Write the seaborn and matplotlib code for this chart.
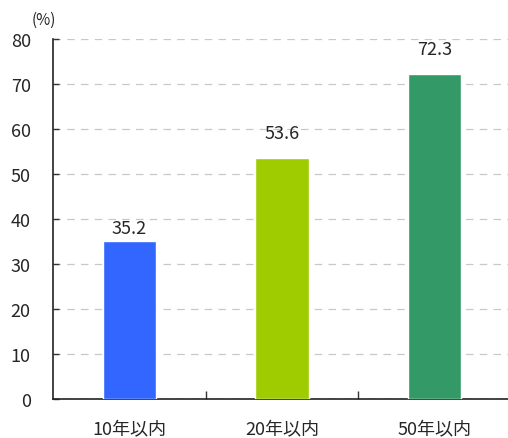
import matplotlib
matplotlib.use("Agg")
import matplotlib.pyplot as plt
import seaborn as sns
import pandas as pd

# data
categories = ["10年以内", "20年以内", "50年以内"]
values = [35.2, 53.6, 72.3]
colors = ["#3366FF", "#9ECC00", "#339966"]
yticks = [0, 10, 20, 30, 40, 50, 60, 70, 80]
# label gap above each bar (the reference lifts the two taller ones more)
label_gap = [0.9, 3.6, 3.5]

df = pd.DataFrame({"period": categories, "pct": values})

sns.set_style("white")
plt.rcParams['font.family'] = ['Noto Sans CJK JP', 'DejaVu Sans']

fig = plt.figure(figsize=(5.08, 4.39), dpi=100)
ax = fig.add_axes([53/508, 1-400/439, 1-53/508, 360/439])

sns.barplot(data=df, x="period", y="pct", hue="period", palette=colors,
            legend=False, width=0.35, saturation=1, ax=ax, zorder=3)

ax.set_xlim(-0.5016, 2.48)
ax.set_ylim(0, 80)
ax.set_yticks(yticks)
ax.set_yticklabels([str(t) for t in yticks], fontsize=13)
ax.yaxis.grid(True, color="#c8c8c8", linestyle=(0, (6, 5)), linewidth=0.9, zorder=0)
ax.xaxis.grid(False)

# category ticks between bars, pointing inward
ax.set_xticks([0.5, 1.5])
ax.set_xticklabels(["", ""])
ax.tick_params(axis="x", direction="in", length=6, width=1, color="#333333", bottom=True)
ax.tick_params(axis="y", direction="in", length=4, width=1, color="#333333", left=True, pad=16)
for i, c in enumerate(categories):
    ax.text(i, -4.6, c, ha="center", va="top", fontsize=13)

for s in ["top", "right"]:
    ax.spines[s].set_visible(False)
for s in ["left", "bottom"]:
    ax.spines[s].set_color("#222222")
    ax.spines[s].set_linewidth(1.2)

for i, v in enumerate(values):
    ax.text(i, v + label_gap[i], f"{v:.1f}", ha="center", va="bottom", fontsize=13)

ax.set_xlabel("")
ax.set_ylabel("")
fig.text(32/508, 1-20/439, "(%)", ha="left", va="center", fontsize=11)

fig.savefig("out.png", dpi=100)
